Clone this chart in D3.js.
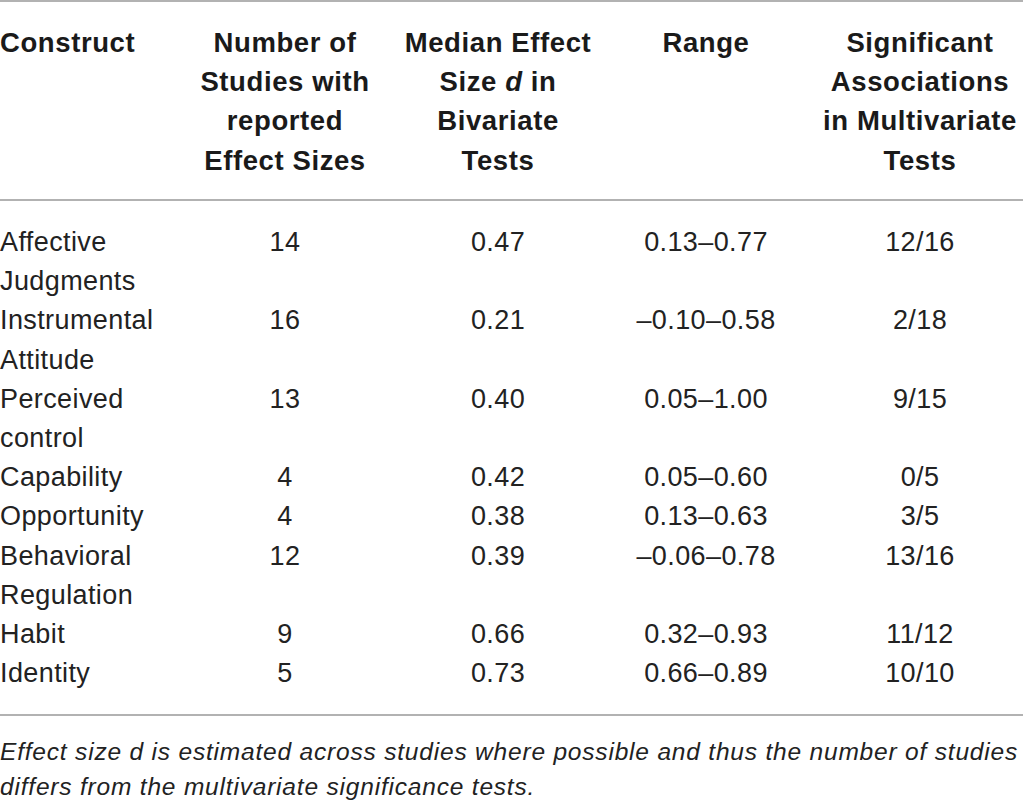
<!DOCTYPE html>
<html>
<head>
<meta charset="utf-8">
<script src="https://cdn.jsdelivr.net/npm/d3@7"></script>
<style>
  body { margin: 0; background: #fff; }
  text { font-family: "Liberation Sans", Arial, sans-serif; fill: #1a1a1a; }
  .head { font-weight: bold; font-size: 27.5px; letter-spacing: 0.6px; }
  .cell { font-size: 27px; letter-spacing: 0.4px; fill: #222; }
  .note { font-style: italic; font-size: 24.5px; fill: #222; }
</style>
</head>
<body>
<div id="table"></div>
<script>
// table content
const headers = [
  ["Construct"],
  ["Number of", "Studies with", "reported", "Effect Sizes"],
  ["Median Effect", "Size |d| in", "Bivariate", "Tests"],
  ["Range"],
  ["Significant", "Associations", "in Multivariate", "Tests"]
];
const constructs = [
  ["Affective", "Judgments"],
  ["Instrumental", "Attitude"],
  ["Perceived", "control"],
  ["Capability"],
  ["Opportunity"],
  ["Behavioral", "Regulation"],
  ["Habit"],
  ["Identity"]
];
const studies = [14, 16, 13, 4, 4, 12, 9, 5];
const medians = ["0.47", "0.21", "0.40", "0.42", "0.38", "0.39", "0.66", "0.73"];
const ranges = ["0.13–0.77", "–0.10–0.58", "0.05–1.00", "0.05–0.60", "0.13–0.63", "–0.06–0.78", "0.32–0.93", "0.66–0.89"];
const significant = ["12/16", "2/18", "9/15", "0/5", "3/5", "13/16", "11/12", "10/10"];
const footnote = [
  "Effect size d is estimated across studies where possible and thus the number of studies",
  "differs from the multivariate significance tests."
];

const width = 1023, height = 800;
const svg = d3.select("#table").append("svg")
  .attr("width", width).attr("height", height);

// column centres (first column is left aligned)
const colX = d3.scaleOrdinal().domain([0, 1, 2, 3, 4]).range([0, 285, 498, 706, 920]);
const lineH = 39.2;
const headY = d3.scaleLinear().domain([0, 1]).range([52, 52 + lineH]);
const bodyY = d3.scaleLinear().domain([0, 1]).range([251, 251 + lineH]);

// rules
const rules = [1, 200, 715];
svg.selectAll("line.rule").data(rules).enter().append("line")
  .attr("class", "rule")
  .attr("x1", 0).attr("x2", width)
  .attr("y1", d => d).attr("y2", d => d)
  .attr("stroke", "#999").attr("stroke-width", 1.6);

// header
headers.forEach(function(lines, c) {
  lines.forEach(function(l, i) {
    let t = svg.append("text").attr("class", "head")
      .attr("x", colX(c)).attr("y", headY(i))
      .attr("text-anchor", c == 0 ? "start" : "middle");
    // |d| marks the italic symbol
    l.split("|").forEach(function(part, k) {
      if (part == "") return;
      let ts = t.append("tspan").text(part);
      if (k == 1) ts.attr("font-style", "italic");
    });
  });
});

// body rows
let line = 0;
constructs.forEach(function(names, r) {
  names.forEach(function(n, i) {
    svg.append("text").attr("class", "cell")
      .attr("x", colX(0)).attr("y", bodyY(line + i)).text(n);
  });
  let vals = [studies[r], medians[r], ranges[r], significant[r]];
  vals.forEach(function(v, c) {
    svg.append("text").attr("class", "cell")
      .attr("x", colX(c + 1)).attr("y", bodyY(line))
      .attr("text-anchor", "middle").text(v);
  });
  line += names.length;
});

// footnote, spaced so the first line spans the full width
let notes = svg.selectAll("text.note").data(footnote).enter().append("text")
  .attr("class", "note")
  .attr("x", 0).attr("y", (d, i) => 760 + i * 35)
  .text(d => d);
let first = notes.node();
let spacing = (1018 - first.getComputedTextLength()) / footnote[0].length;
notes.style("letter-spacing", spacing + "px");
</script>
</body>
</html>
